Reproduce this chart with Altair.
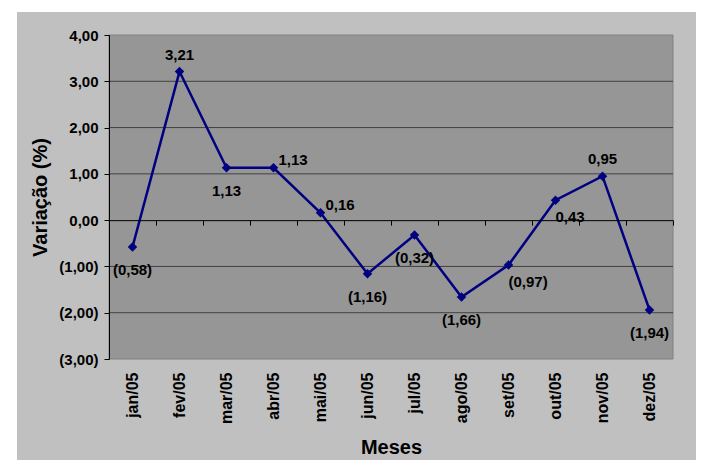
import altair as alt
import pandas as pd

# ---- data ----
meses = ["jan/05", "fev/05", "mar/05", "abr/05", "mai/05", "jun/05",
         "jul/05", "ago/05", "set/05", "out/05", "nov/05", "dez/05"]
variacao = [-0.58, 3.21, 1.13, 1.13, 0.16, -1.16, -0.32, -1.66, -0.97, 0.43, 0.95, -1.94]
label_pos = ["below", "above", "below", "right", "right", "below",
             "below", "below", "belowright", "belowright", "above", "below"]
y_ticks = [-3, -2, -1, 0, 1, 2, 3, 4]
grid_values = [-2, -1, 1, 2, 3]


def fmt(v):
    s = f"{abs(v):.2f}".replace(".", ",")
    return f"({s})" if v < 0 else s


df = pd.DataFrame({
    "mes": meses,
    "v": variacao,
    "i": list(range(len(meses))),
    "label": [fmt(v) for v in variacao],
    "pos": label_pos,
})

W, H = 564, 324
Y_MIN, Y_MAX = -3, 4
FONT = "Liberation Sans"
LINE_COLOR = "#000080"

x_scale = alt.Scale(type="band", domain=meses, paddingInner=0, paddingOuter=0)
y_scale = alt.Scale(domain=[Y_MIN, Y_MAX], nice=False, zero=False)

label_expr = ("datum.value < 0 ? '(' + replace(format(-datum.value, '.2f'), '.', ',') + ')'"
              " : replace(format(datum.value, '.2f'), '.', ',')")

y_axis = alt.Axis(orient="left", values=y_ticks, labelExpr=label_expr, title="Variação (%)",
                  grid=False, domain=True, ticks=True,
                  domainColor="black", domainWidth=1, tickColor="black", tickSize=5, tickWidth=1,
                  labelPadding=6, labelFont=FONT, labelFontSize=15, labelFontWeight="bold",
                  labelColor="black", titleFont=FONT, titleFontSize=20, titleFontWeight="bold",
                  titleColor="black", titlePadding=8, zindex=1)

x_axis_main = alt.Axis(orient="bottom", title="Meses", labelAngle=-90, domain=False, ticks=False,
                       tickSize=0, labelPadding=13, labelFont=FONT, labelFontSize=16,
                       labelFontWeight="bold", labelColor="black", titleFont=FONT,
                       titleFontSize=20, titleFontWeight="bold", titleColor="black",
                       titlePadding=14, grid=False, zindex=1)

zero_offset = -(H - H * (Y_MAX - 0) / (Y_MAX - Y_MIN))
x_axis_zero = alt.Axis(orient="bottom", offset=zero_offset, labels=False, title=None,
                       domainColor="black", domainWidth=1, tickColor="black", tickSize=5,
                       tickWidth=1, bandPosition=1, grid=False, zindex=1)

one = alt.Data(values=[{}])

outer = alt.Chart(one).mark_rect(fill="#C0C0C0").encode(
    x=alt.value(-92), x2=alt.value(590), y=alt.value(-23), y2=alt.value(433))

plot_bg = alt.Chart(one).mark_rect(fill="#969696", stroke="#808080", strokeWidth=1).encode(
    x=alt.value(0), x2=alt.value(W), y=alt.value(0), y2=alt.value(H))

grid = alt.Chart(pd.DataFrame({"g": grid_values})).mark_rule(color="#404040", strokeWidth=1).encode(
    y=alt.Y("g:Q", scale=y_scale, axis=None),
    x=alt.value(0), x2=alt.value(W))

base = alt.Chart(df)

line = base.mark_line(color=LINE_COLOR, strokeWidth=2.5).encode(
    x=alt.X("mes:N", scale=x_scale, axis=x_axis_main),
    y=alt.Y("v:Q", scale=y_scale, axis=y_axis),
    order=alt.Order("i:Q"))

points = base.mark_point(shape="diamond", filled=True, size=90, color=LINE_COLOR, opacity=1).encode(
    x=alt.X("mes:N", scale=x_scale, axis=x_axis_zero),
    y=alt.Y("v:Q", scale=y_scale, axis=None))

placements = {
    "above": dict(dx=0, dy=-17, align="center"),
    "below": dict(dx=0, dy=23, align="center"),
    "right": dict(dx=5, dy=-8, align="left"),
    "belowright": dict(dx=0, dy=17, align="left"),
}

label_layers = []
for name, p in placements.items():
    label_layers.append(
        base.transform_filter(alt.datum.pos == name).mark_text(
            font=FONT, fontSize=15, fontWeight="bold", color="black", baseline="middle",
            dx=p["dx"], dy=p["dy"], align=p["align"]).encode(
            x=alt.X("mes:N", scale=x_scale, axis=None),
            y=alt.Y("v:Q", scale=y_scale, axis=None),
            text="label:N"))

chart = alt.layer(outer, plot_bg, grid, line, points, *label_layers).resolve_axis(
    x="independent", y="independent"
).properties(
    width=W, height=H,
    autosize=alt.AutoSizeParams(type="none"),
    padding={"left": 101, "top": 27, "right": 23, "bottom": 101},
    background="white",
).configure_view(stroke="transparent")

chart.save("out.html", embed_options={"renderer": "svg", "actions": False})
